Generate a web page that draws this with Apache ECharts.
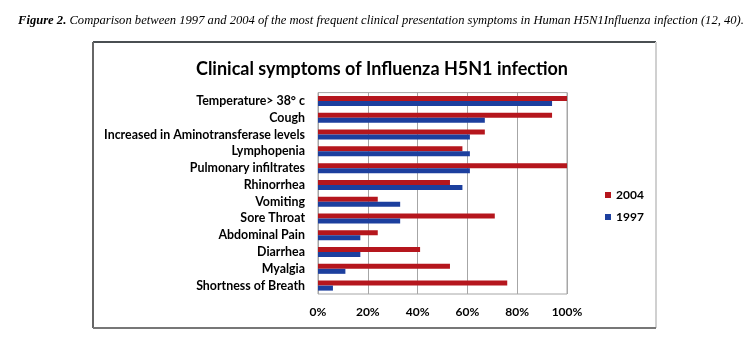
<!DOCTYPE html>
<html><head><meta charset="utf-8">
<script src="https://cdn.jsdelivr.net/npm/echarts@6/dist/echarts.min.js"></script>
<style>html,body{margin:0;padding:0;background:#fff}#c{width:756px;height:345px}</style>
</head><body><div id="c"></div>
<script>
const categories = ["Temperature> 38° c","Cough","Increased in Aminotransferase levels","Lymphopenia","Pulmonary infiltrates","Rhinorrhea","Vomiting","Sore Throat","Abdominal Pain","Diarrhea","Myalgia","Shortness of Breath"];
const values2004 = [100,94,67,58,100,53,24,71,24,41,53,76];
const values1997 = [94,67,61,61,61,58,33,33,17,17,11,6];
const xTicks = [0,20,40,60,80,100];

const chart = echarts.init(document.getElementById('c'));
const F = 'Lato, "Open Sans", sans-serif';
chart.setOption({
  animation:false,
  title:[{
    text:'{b|Figure 2.}{i| Comparison between 1997 and 2004 of the most frequent clinical presentation symptoms in Human H5N1Influenza infection (12, 40).}',
    left:13, top:9,
    textStyle:{rich:{
      b:{fontFamily:'"Liberation Serif"',fontStyle:'italic',fontWeight:'bold',fontSize:12.6,color:'#000'},
      i:{fontFamily:'"Liberation Serif"',fontStyle:'italic',fontWeight:'normal',fontSize:12.6,color:'#000'}
    }}
  },{
    text:'Clinical symptoms of Influenza H5N1 infection',
    left:377, top:55, textAlign:'center',
    textStyle:{fontFamily:F,fontWeight:'bold',fontSize:18,color:'#000'}
  }],
  graphic:[
    {type:'line',shape:{x1:93,y1:42,x2:656,y2:42},style:{stroke:'#4a4f52',lineWidth:2}},
    {type:'line',shape:{x1:93,y1:42,x2:93,y2:328},style:{stroke:'#666',lineWidth:2}},
    {type:'line',shape:{x1:656,y1:42,x2:656,y2:328},style:{stroke:'#d0d0d0',lineWidth:2}},
    {type:'line',shape:{x1:93,y1:328,x2:656,y2:328},style:{stroke:'#777',lineWidth:2}}
  ],
  legend:{
    data:['2004','1997'], orient:'vertical', left:600, top:184,
    itemWidth:6, itemHeight:6, itemGap:10, icon:'rect',
    textStyle:{fontFamily:F,fontWeight:'bold',fontSize:12,color:'#000'}
  },
  grid:{left:318,right:189,top:92.6,bottom:51,show:true,borderColor:'#a6a6a6',borderWidth:1,containLabel:false},
  xAxis:{type:'value',min:0,max:100,interval:20,
    axisLine:{show:false},axisTick:{show:false},
    splitLine:{lineStyle:{color:'#a6a6a6'}},
    axisLabel:{formatter:v=>v+'%',margin:12,fontFamily:F,fontWeight:'bold',fontSize:12,color:'#000'}
  },
  yAxis:{type:'category',data:categories,inverse:true,
    axisLine:{show:false},axisTick:{show:false},
    axisLabel:{margin:13,fontFamily:F,fontWeight:'bold',fontSize:12.4,color:'#000'}
  },
  series:[
    {name:'2004',type:'bar',data:values2004,barWidth:5,barGap:'0%',itemStyle:{color:'#b5161d'}},
    {name:'1997',type:'bar',data:values1997,barWidth:5,barGap:'0%',itemStyle:{color:'#1c3f9e'}}
  ]
});
</script></body></html>
